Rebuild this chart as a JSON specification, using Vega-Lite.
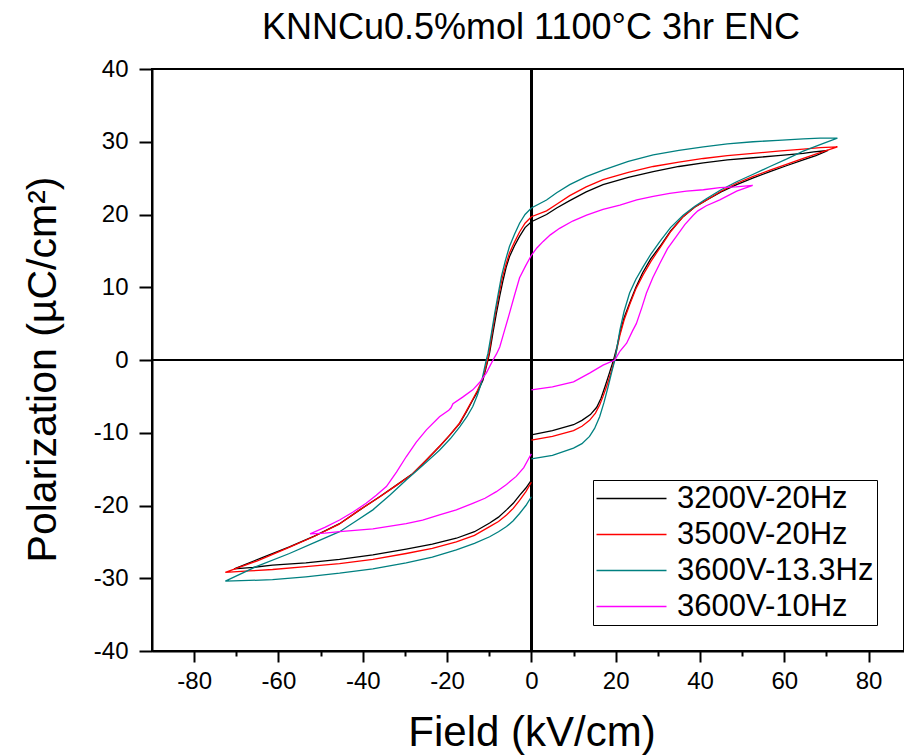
{
"$schema":"https://vega.github.io/schema/vega-lite/v6.json",
"width":752,"height":582,"autosize":"none",
"padding":{"left":152,"top":69,"right":0,"bottom":105},
"background":"white",
"title":{"text":"KNNCu0.5%mol 1100°C 3hr ENC","font":"Liberation Sans","fontSize":36,"fontWeight":"normal","color":"black","anchor":"middle","frame":"group","offset":10,"dx":3},
"config":{"font":"Liberation Sans","view":{"stroke":"black","strokeWidth":2},
"axis":{"grid":false,"domainColor":"black","domainWidth":2,"tickColor":"black","tickWidth":2,"labelFont":"Liberation Sans","labelFontSize":24,"labelColor":"black","titleFont":"Liberation Sans","titleFontWeight":"normal","titleColor":"black","labelOverlap":false,"labelFlush":false}},
"data":{"values":[
{"s":"3200V-20Hz","i":0,"E":0,"P":-10.3},{"s":"3200V-20Hz","i":1,"E":5,"P":-9.7},{"s":"3200V-20Hz","i":2,"E":10,"P":-8.9},{"s":"3200V-20Hz","i":3,"E":12,"P":-8.3},{"s":"3200V-20Hz","i":4,"E":14,"P":-7.5},{"s":"3200V-20Hz","i":5,"E":15.5,"P":-6.5},{"s":"3200V-20Hz","i":6,"E":16.5,"P":-5.3},{"s":"3200V-20Hz","i":7,"E":17.5,"P":-3.6},{"s":"3200V-20Hz","i":8,"E":18.5,"P":-1.8},{"s":"3200V-20Hz","i":9,"E":19.5,"P":0},
{"s":"3200V-20Hz","i":10,"E":20.3,"P":1.8},{"s":"3200V-20Hz","i":11,"E":21,"P":3.7},{"s":"3200V-20Hz","i":12,"E":22,"P":5.8},{"s":"3200V-20Hz","i":13,"E":23.3,"P":7.8},{"s":"3200V-20Hz","i":14,"E":24.8,"P":10},{"s":"3200V-20Hz","i":15,"E":26.4,"P":12},{"s":"3200V-20Hz","i":16,"E":28.3,"P":13.9},{"s":"3200V-20Hz","i":17,"E":30.5,"P":15.6},{"s":"3200V-20Hz","i":18,"E":33,"P":17.7},{"s":"3200V-20Hz","i":19,"E":36,"P":19.7},
{"s":"3200V-20Hz","i":20,"E":38.7,"P":21},{"s":"3200V-20Hz","i":21,"E":41.6,"P":22},{"s":"3200V-20Hz","i":22,"E":45,"P":23.1},{"s":"3200V-20Hz","i":23,"E":48.7,"P":24.1},{"s":"3200V-20Hz","i":24,"E":52.5,"P":25},{"s":"3200V-20Hz","i":25,"E":56.6,"P":25.9},{"s":"3200V-20Hz","i":26,"E":60.5,"P":26.7},{"s":"3200V-20Hz","i":27,"E":64.5,"P":27.5},{"s":"3200V-20Hz","i":28,"E":67.5,"P":28.1},{"s":"3200V-20Hz","i":29,"E":70.4,"P":28.8},
{"s":"3200V-20Hz","i":30,"E":67,"P":28.6},{"s":"3200V-20Hz","i":31,"E":64.5,"P":28.4},{"s":"3200V-20Hz","i":32,"E":58.5,"P":28.1},{"s":"3200V-20Hz","i":33,"E":52.6,"P":27.8},{"s":"3200V-20Hz","i":34,"E":46.5,"P":27.5},{"s":"3200V-20Hz","i":35,"E":40.8,"P":27.1},{"s":"3200V-20Hz","i":36,"E":35,"P":26.6},{"s":"3200V-20Hz","i":37,"E":28.9,"P":25.9},{"s":"3200V-20Hz","i":38,"E":23,"P":25.1},{"s":"3200V-20Hz","i":39,"E":17,"P":24.1},
{"s":"3200V-20Hz","i":40,"E":13,"P":23.1},{"s":"3200V-20Hz","i":41,"E":9.1,"P":21.9},{"s":"3200V-20Hz","i":42,"E":6,"P":20.9},{"s":"3200V-20Hz","i":43,"E":3.6,"P":20},{"s":"3200V-20Hz","i":44,"E":0,"P":19},{"s":"3200V-20Hz","i":45,"E":-1.5,"P":18.2},{"s":"3200V-20Hz","i":46,"E":-2.8,"P":17},{"s":"3200V-20Hz","i":47,"E":-4,"P":15.7},{"s":"3200V-20Hz","i":48,"E":-5.2,"P":14.2},{"s":"3200V-20Hz","i":49,"E":-6,"P":12.7},
{"s":"3200V-20Hz","i":50,"E":-6.7,"P":11},{"s":"3200V-20Hz","i":51,"E":-7.5,"P":8.8},{"s":"3200V-20Hz","i":52,"E":-8.3,"P":6.4},{"s":"3200V-20Hz","i":53,"E":-9.1,"P":3.8},{"s":"3200V-20Hz","i":54,"E":-9.9,"P":1},{"s":"3200V-20Hz","i":55,"E":-10.3,"P":0},{"s":"3200V-20Hz","i":56,"E":-10.9,"P":-1.4},{"s":"3200V-20Hz","i":57,"E":-11.5,"P":-2.8},{"s":"3200V-20Hz","i":58,"E":-12.6,"P":-4.2},{"s":"3200V-20Hz","i":59,"E":-13.9,"P":-5.5},
{"s":"3200V-20Hz","i":60,"E":-15.4,"P":-7.1},{"s":"3200V-20Hz","i":61,"E":-17,"P":-8.7},{"s":"3200V-20Hz","i":62,"E":-19.3,"P":-10.3},{"s":"3200V-20Hz","i":63,"E":-21.8,"P":-11.9},{"s":"3200V-20Hz","i":64,"E":-25,"P":-13.8},{"s":"3200V-20Hz","i":65,"E":-28.1,"P":-15.6},{"s":"3200V-20Hz","i":66,"E":-32,"P":-17.2},{"s":"3200V-20Hz","i":67,"E":-36,"P":-18.8},{"s":"3200V-20Hz","i":68,"E":-40.7,"P":-20.6},{"s":"3200V-20Hz","i":69,"E":-45.5,"P":-22.5},
{"s":"3200V-20Hz","i":70,"E":-51.5,"P":-24.2},{"s":"3200V-20Hz","i":71,"E":-57.4,"P":-25.7},{"s":"3200V-20Hz","i":72,"E":-64,"P":-27.2},{"s":"3200V-20Hz","i":73,"E":-70.5,"P":-28.7},{"s":"3200V-20Hz","i":74,"E":-66,"P":-28.5},{"s":"3200V-20Hz","i":75,"E":-61.4,"P":-28.2},{"s":"3200V-20Hz","i":76,"E":-53.5,"P":-27.9},{"s":"3200V-20Hz","i":77,"E":-45.5,"P":-27.4},{"s":"3200V-20Hz","i":78,"E":-37.6,"P":-26.8},{"s":"3200V-20Hz","i":79,"E":-29.7,"P":-26},
{"s":"3200V-20Hz","i":80,"E":-23.5,"P":-25.3},{"s":"3200V-20Hz","i":81,"E":-17.8,"P":-24.5},{"s":"3200V-20Hz","i":82,"E":-13.5,"P":-23.6},{"s":"3200V-20Hz","i":83,"E":-9.9,"P":-22.4},{"s":"3200V-20Hz","i":84,"E":-7.8,"P":-21.6},{"s":"3200V-20Hz","i":85,"E":-5.9,"P":-20.6},{"s":"3200V-20Hz","i":86,"E":-4.3,"P":-19.7},{"s":"3200V-20Hz","i":87,"E":-2.8,"P":-18.6},{"s":"3200V-20Hz","i":88,"E":-1.3,"P":-17.6},{"s":"3200V-20Hz","i":89,"E":0,"P":-16.5},

{"s":"3500V-20Hz","i":0,"E":0,"P":-11},{"s":"3500V-20Hz","i":1,"E":5,"P":-10.5},{"s":"3500V-20Hz","i":2,"E":10,"P":-9.7},{"s":"3500V-20Hz","i":3,"E":12,"P":-9.1},{"s":"3500V-20Hz","i":4,"E":13.8,"P":-8.3},{"s":"3500V-20Hz","i":5,"E":15.2,"P":-7.3},{"s":"3500V-20Hz","i":6,"E":16.2,"P":-6.2},{"s":"3500V-20Hz","i":7,"E":17,"P":-5},{"s":"3500V-20Hz","i":8,"E":17.8,"P":-3.7},{"s":"3500V-20Hz","i":9,"E":18.8,"P":-1.9},
{"s":"3500V-20Hz","i":10,"E":19.7,"P":0},{"s":"3500V-20Hz","i":11,"E":20.4,"P":1.8},{"s":"3500V-20Hz","i":12,"E":21,"P":3.4},{"s":"3500V-20Hz","i":13,"E":22,"P":5.5},{"s":"3500V-20Hz","i":14,"E":23.3,"P":7.6},{"s":"3500V-20Hz","i":15,"E":24.8,"P":9.8},{"s":"3500V-20Hz","i":16,"E":26.5,"P":11.7},{"s":"3500V-20Hz","i":17,"E":28.4,"P":13.6},{"s":"3500V-20Hz","i":18,"E":30.5,"P":15.4},{"s":"3500V-20Hz","i":19,"E":33,"P":17.6},
{"s":"3500V-20Hz","i":20,"E":36,"P":19.7},{"s":"3500V-20Hz","i":21,"E":38.7,"P":21},{"s":"3500V-20Hz","i":22,"E":41.6,"P":22},{"s":"3500V-20Hz","i":23,"E":45,"P":23.2},{"s":"3500V-20Hz","i":24,"E":48.7,"P":24.3},{"s":"3500V-20Hz","i":25,"E":52.5,"P":25.2},{"s":"3500V-20Hz","i":26,"E":56.6,"P":26.1},{"s":"3500V-20Hz","i":27,"E":60.5,"P":26.9},{"s":"3500V-20Hz","i":28,"E":64.5,"P":27.7},{"s":"3500V-20Hz","i":29,"E":68.5,"P":28.5},
{"s":"3500V-20Hz","i":30,"E":72.6,"P":29.3},{"s":"3500V-20Hz","i":31,"E":68.5,"P":29.2},{"s":"3500V-20Hz","i":32,"E":64.5,"P":29},{"s":"3500V-20Hz","i":33,"E":58.5,"P":28.7},{"s":"3500V-20Hz","i":34,"E":52.6,"P":28.4},{"s":"3500V-20Hz","i":35,"E":46.5,"P":28.1},{"s":"3500V-20Hz","i":36,"E":40.8,"P":27.7},{"s":"3500V-20Hz","i":37,"E":35,"P":27.2},{"s":"3500V-20Hz","i":38,"E":28.9,"P":26.6},{"s":"3500V-20Hz","i":39,"E":23,"P":25.8},
{"s":"3500V-20Hz","i":40,"E":17,"P":24.8},{"s":"3500V-20Hz","i":41,"E":13,"P":23.8},{"s":"3500V-20Hz","i":42,"E":9.1,"P":22.6},{"s":"3500V-20Hz","i":43,"E":6,"P":21.4},{"s":"3500V-20Hz","i":44,"E":3.6,"P":20.5},{"s":"3500V-20Hz","i":45,"E":0,"P":19.7},{"s":"3500V-20Hz","i":46,"E":-1.5,"P":18.8},{"s":"3500V-20Hz","i":47,"E":-2.8,"P":17.6},{"s":"3500V-20Hz","i":48,"E":-4,"P":16.2},{"s":"3500V-20Hz","i":49,"E":-5.2,"P":14.7},
{"s":"3500V-20Hz","i":50,"E":-6,"P":13.2},{"s":"3500V-20Hz","i":51,"E":-6.9,"P":11.3},{"s":"3500V-20Hz","i":52,"E":-7.7,"P":9},{"s":"3500V-20Hz","i":53,"E":-8.5,"P":6.5},{"s":"3500V-20Hz","i":54,"E":-9.3,"P":3.8},{"s":"3500V-20Hz","i":55,"E":-10,"P":1.1},{"s":"3500V-20Hz","i":56,"E":-10.4,"P":0},{"s":"3500V-20Hz","i":57,"E":-11,"P":-1.4},{"s":"3500V-20Hz","i":58,"E":-11.7,"P":-2.8},{"s":"3500V-20Hz","i":59,"E":-12.8,"P":-4.2},
{"s":"3500V-20Hz","i":60,"E":-14.1,"P":-5.6},{"s":"3500V-20Hz","i":61,"E":-15.6,"P":-7.2},{"s":"3500V-20Hz","i":62,"E":-17.2,"P":-8.8},{"s":"3500V-20Hz","i":63,"E":-19.5,"P":-10.4},{"s":"3500V-20Hz","i":64,"E":-22,"P":-12},{"s":"3500V-20Hz","i":65,"E":-25.2,"P":-13.9},{"s":"3500V-20Hz","i":66,"E":-28.3,"P":-15.7},{"s":"3500V-20Hz","i":67,"E":-32.2,"P":-17.3},{"s":"3500V-20Hz","i":68,"E":-36.2,"P":-18.9},{"s":"3500V-20Hz","i":69,"E":-41,"P":-20.7},
{"s":"3500V-20Hz","i":70,"E":-45.7,"P":-22.6},{"s":"3500V-20Hz","i":71,"E":-51.7,"P":-24.3},{"s":"3500V-20Hz","i":72,"E":-57.6,"P":-25.8},{"s":"3500V-20Hz","i":73,"E":-65,"P":-27.6},{"s":"3500V-20Hz","i":74,"E":-72.6,"P":-29.2},{"s":"3500V-20Hz","i":75,"E":-67,"P":-29},{"s":"3500V-20Hz","i":76,"E":-61.4,"P":-28.8},{"s":"3500V-20Hz","i":77,"E":-53.5,"P":-28.4},{"s":"3500V-20Hz","i":78,"E":-45.5,"P":-28},{"s":"3500V-20Hz","i":79,"E":-37.6,"P":-27.4},
{"s":"3500V-20Hz","i":80,"E":-29.7,"P":-26.6},{"s":"3500V-20Hz","i":81,"E":-23.5,"P":-25.9},{"s":"3500V-20Hz","i":82,"E":-17.8,"P":-25},{"s":"3500V-20Hz","i":83,"E":-13.5,"P":-24.1},{"s":"3500V-20Hz","i":84,"E":-9.9,"P":-22.9},{"s":"3500V-20Hz","i":85,"E":-7.8,"P":-22.2},{"s":"3500V-20Hz","i":86,"E":-5.9,"P":-21.3},{"s":"3500V-20Hz","i":87,"E":-4.3,"P":-20.4},{"s":"3500V-20Hz","i":88,"E":-2.8,"P":-19.3},{"s":"3500V-20Hz","i":89,"E":-1.3,"P":-18.1},{"s":"3500V-20Hz","i":90,"E":0,"P":-16.8},

{"s":"3600V-13.3Hz","i":0,"E":0,"P":-13.6},{"s":"3600V-13.3Hz","i":1,"E":5,"P":-13.1},{"s":"3600V-13.3Hz","i":2,"E":10,"P":-12.1},{"s":"3600V-13.3Hz","i":3,"E":12,"P":-11.5},{"s":"3600V-13.3Hz","i":4,"E":13.8,"P":-10.5},{"s":"3600V-13.3Hz","i":5,"E":15,"P":-9.4},{"s":"3600V-13.3Hz","i":6,"E":16.2,"P":-7.8},{"s":"3600V-13.3Hz","i":7,"E":17.2,"P":-5.9},{"s":"3600V-13.3Hz","i":8,"E":18.2,"P":-3.7},{"s":"3600V-13.3Hz","i":9,"E":19,"P":-1.8},
{"s":"3600V-13.3Hz","i":10,"E":19.8,"P":0},{"s":"3600V-13.3Hz","i":11,"E":20.4,"P":2},{"s":"3600V-13.3Hz","i":12,"E":21,"P":4.1},{"s":"3600V-13.3Hz","i":13,"E":22,"P":6.7},{"s":"3600V-13.3Hz","i":14,"E":23.3,"P":9.2},{"s":"3600V-13.3Hz","i":15,"E":24.8,"P":11.1},{"s":"3600V-13.3Hz","i":16,"E":26.5,"P":12.8},{"s":"3600V-13.3Hz","i":17,"E":28.4,"P":14.6},{"s":"3600V-13.3Hz","i":18,"E":30.5,"P":16.3},{"s":"3600V-13.3Hz","i":19,"E":33,"P":18.2},
{"s":"3600V-13.3Hz","i":20,"E":36,"P":19.9},{"s":"3600V-13.3Hz","i":21,"E":38.7,"P":21.1},{"s":"3600V-13.3Hz","i":22,"E":41.6,"P":22.2},{"s":"3600V-13.3Hz","i":23,"E":45,"P":23.4},{"s":"3600V-13.3Hz","i":24,"E":48.7,"P":24.5},{"s":"3600V-13.3Hz","i":25,"E":52.5,"P":25.5},{"s":"3600V-13.3Hz","i":26,"E":56.6,"P":26.6},{"s":"3600V-13.3Hz","i":27,"E":60.5,"P":27.6},{"s":"3600V-13.3Hz","i":28,"E":64.5,"P":28.7},{"s":"3600V-13.3Hz","i":29,"E":68.5,"P":29.6},
{"s":"3600V-13.3Hz","i":30,"E":72.6,"P":30.5},{"s":"3600V-13.3Hz","i":31,"E":68.5,"P":30.5},{"s":"3600V-13.3Hz","i":32,"E":64.5,"P":30.4},{"s":"3600V-13.3Hz","i":33,"E":58.5,"P":30.2},{"s":"3600V-13.3Hz","i":34,"E":52.6,"P":30},{"s":"3600V-13.3Hz","i":35,"E":46.5,"P":29.7},{"s":"3600V-13.3Hz","i":36,"E":40.8,"P":29.3},{"s":"3600V-13.3Hz","i":37,"E":35,"P":28.8},{"s":"3600V-13.3Hz","i":38,"E":28.9,"P":28.2},{"s":"3600V-13.3Hz","i":39,"E":23,"P":27.3},
{"s":"3600V-13.3Hz","i":40,"E":17,"P":26.1},{"s":"3600V-13.3Hz","i":41,"E":13,"P":25.2},{"s":"3600V-13.3Hz","i":42,"E":9.1,"P":24.1},{"s":"3600V-13.3Hz","i":43,"E":6,"P":23},{"s":"3600V-13.3Hz","i":44,"E":3.6,"P":22},{"s":"3600V-13.3Hz","i":45,"E":0,"P":20.9},{"s":"3600V-13.3Hz","i":46,"E":-1.5,"P":20},{"s":"3600V-13.3Hz","i":47,"E":-2.8,"P":18.8},{"s":"3600V-13.3Hz","i":48,"E":-4,"P":17.3},{"s":"3600V-13.3Hz","i":49,"E":-5.2,"P":15.6},
{"s":"3600V-13.3Hz","i":50,"E":-6.2,"P":13.6},{"s":"3600V-13.3Hz","i":51,"E":-7.1,"P":11.5},{"s":"3600V-13.3Hz","i":52,"E":-7.9,"P":9},{"s":"3600V-13.3Hz","i":53,"E":-8.7,"P":6.4},{"s":"3600V-13.3Hz","i":54,"E":-9.5,"P":3.6},{"s":"3600V-13.3Hz","i":55,"E":-10.3,"P":0.9},{"s":"3600V-13.3Hz","i":56,"E":-10.7,"P":0},{"s":"3600V-13.3Hz","i":57,"E":-11.3,"P":-1.6},{"s":"3600V-13.3Hz","i":58,"E":-11.9,"P":-3.2},{"s":"3600V-13.3Hz","i":59,"E":-12.8,"P":-4.8},
{"s":"3600V-13.3Hz","i":60,"E":-13.9,"P":-6.4},{"s":"3600V-13.3Hz","i":61,"E":-15.3,"P":-7.8},{"s":"3600V-13.3Hz","i":62,"E":-17,"P":-9.2},{"s":"3600V-13.3Hz","i":63,"E":-19.2,"P":-10.8},{"s":"3600V-13.3Hz","i":64,"E":-21.8,"P":-12.4},{"s":"3600V-13.3Hz","i":65,"E":-25.6,"P":-14.4},{"s":"3600V-13.3Hz","i":66,"E":-29.7,"P":-16.5},{"s":"3600V-13.3Hz","i":67,"E":-33.6,"P":-18.6},{"s":"3600V-13.3Hz","i":68,"E":-37.6,"P":-20.6},{"s":"3600V-13.3Hz","i":69,"E":-41.5,"P":-22.1},
{"s":"3600V-13.3Hz","i":70,"E":-45.5,"P":-23.6},{"s":"3600V-13.3Hz","i":71,"E":-51.5,"P":-25.1},{"s":"3600V-13.3Hz","i":72,"E":-57.4,"P":-26.6},{"s":"3600V-13.3Hz","i":73,"E":-65.3,"P":-28.4},{"s":"3600V-13.3Hz","i":74,"E":-72.6,"P":-30.4},{"s":"3600V-13.3Hz","i":75,"E":-67,"P":-30.3},{"s":"3600V-13.3Hz","i":76,"E":-61.4,"P":-30.2},{"s":"3600V-13.3Hz","i":77,"E":-53.5,"P":-29.8},{"s":"3600V-13.3Hz","i":78,"E":-45.5,"P":-29.3},{"s":"3600V-13.3Hz","i":79,"E":-37.6,"P":-28.7},
{"s":"3600V-13.3Hz","i":80,"E":-29.7,"P":-27.9},{"s":"3600V-13.3Hz","i":81,"E":-23.5,"P":-27.1},{"s":"3600V-13.3Hz","i":82,"E":-17.8,"P":-26.1},{"s":"3600V-13.3Hz","i":83,"E":-13.5,"P":-25.2},{"s":"3600V-13.3Hz","i":84,"E":-9.9,"P":-24.3},{"s":"3600V-13.3Hz","i":85,"E":-7.8,"P":-23.6},{"s":"3600V-13.3Hz","i":86,"E":-5.9,"P":-22.9},{"s":"3600V-13.3Hz","i":87,"E":-4.3,"P":-22.1},{"s":"3600V-13.3Hz","i":88,"E":-2.8,"P":-21.1},{"s":"3600V-13.3Hz","i":89,"E":-1.3,"P":-20},{"s":"3600V-13.3Hz","i":90,"E":0,"P":-18.8},

{"s":"3600V-10Hz","i":0,"E":0,"P":-4.1},{"s":"3600V-10Hz","i":1,"E":5,"P":-3.7},{"s":"3600V-10Hz","i":2,"E":10,"P":-3},{"s":"3600V-10Hz","i":3,"E":13.8,"P":-1.8},{"s":"3600V-10Hz","i":4,"E":17,"P":-0.7},{"s":"3600V-10Hz","i":5,"E":19.8,"P":0},{"s":"3600V-10Hz","i":6,"E":21,"P":1.2},{"s":"3600V-10Hz","i":7,"E":22.6,"P":2.3},{"s":"3600V-10Hz","i":8,"E":24,"P":4},{"s":"3600V-10Hz","i":9,"E":24.9,"P":5},
{"s":"3600V-10Hz","i":10,"E":26.2,"P":7.2},{"s":"3600V-10Hz","i":11,"E":27.3,"P":9.2},{"s":"3600V-10Hz","i":12,"E":28.8,"P":11.3},{"s":"3600V-10Hz","i":13,"E":30.5,"P":13.3},{"s":"3600V-10Hz","i":14,"E":32.3,"P":15.3},{"s":"3600V-10Hz","i":15,"E":34.4,"P":17},{"s":"3600V-10Hz","i":16,"E":36.4,"P":18.6},{"s":"3600V-10Hz","i":17,"E":38.4,"P":19.9},{"s":"3600V-10Hz","i":18,"E":39.5,"P":20.5},{"s":"3600V-10Hz","i":19,"E":41.5,"P":21.2},
{"s":"3600V-10Hz","i":20,"E":44.7,"P":22},{"s":"3600V-10Hz","i":21,"E":48.7,"P":23.2},{"s":"3600V-10Hz","i":22,"E":52.5,"P":24},{"s":"3600V-10Hz","i":23,"E":48.5,"P":23.8},{"s":"3600V-10Hz","i":24,"E":44.7,"P":23.7},{"s":"3600V-10Hz","i":25,"E":40.8,"P":23.4},{"s":"3600V-10Hz","i":26,"E":36.8,"P":23.2},{"s":"3600V-10Hz","i":27,"E":32.8,"P":22.9},{"s":"3600V-10Hz","i":28,"E":28.9,"P":22.5},{"s":"3600V-10Hz","i":29,"E":25,"P":22},
{"s":"3600V-10Hz","i":30,"E":21,"P":21.3},{"s":"3600V-10Hz","i":31,"E":17,"P":20.7},{"s":"3600V-10Hz","i":32,"E":13.1,"P":19.9},{"s":"3600V-10Hz","i":33,"E":9.8,"P":19.1},{"s":"3600V-10Hz","i":34,"E":6.7,"P":18.1},{"s":"3600V-10Hz","i":35,"E":4.5,"P":17.2},{"s":"3600V-10Hz","i":36,"E":2.8,"P":16.3},{"s":"3600V-10Hz","i":37,"E":1.3,"P":15.4},{"s":"3600V-10Hz","i":38,"E":0,"P":14.4},{"s":"3600V-10Hz","i":39,"E":-1.4,"P":12.9},
{"s":"3600V-10Hz","i":40,"E":-2.8,"P":11.3},{"s":"3600V-10Hz","i":41,"E":-4,"P":8.9},{"s":"3600V-10Hz","i":42,"E":-5.2,"P":6.4},{"s":"3600V-10Hz","i":43,"E":-6.4,"P":4},{"s":"3600V-10Hz","i":44,"E":-7.5,"P":1.8},{"s":"3600V-10Hz","i":45,"E":-8.3,"P":0.8},{"s":"3600V-10Hz","i":46,"E":-9.1,"P":0},{"s":"3600V-10Hz","i":47,"E":-10.7,"P":-1.8},{"s":"3600V-10Hz","i":48,"E":-12.3,"P":-3.1},{"s":"3600V-10Hz","i":49,"E":-13.9,"P":-4.1},
{"s":"3600V-10Hz","i":50,"E":-16.3,"P":-5.1},{"s":"3600V-10Hz","i":51,"E":-18.6,"P":-6},{"s":"3600V-10Hz","i":52,"E":-19.1,"P":-6.6},{"s":"3600V-10Hz","i":53,"E":-19.6,"P":-6.9},{"s":"3600V-10Hz","i":54,"E":-21.8,"P":-7.8},{"s":"3600V-10Hz","i":55,"E":-24.9,"P":-9.6},{"s":"3600V-10Hz","i":56,"E":-27.3,"P":-11.3},{"s":"3600V-10Hz","i":57,"E":-29.7,"P":-13.3},{"s":"3600V-10Hz","i":58,"E":-32,"P":-15.4},{"s":"3600V-10Hz","i":59,"E":-34.4,"P":-17.4},
{"s":"3600V-10Hz","i":60,"E":-36.8,"P":-18.6},{"s":"3600V-10Hz","i":61,"E":-39.2,"P":-19.7},{"s":"3600V-10Hz","i":62,"E":-42.3,"P":-20.9},{"s":"3600V-10Hz","i":63,"E":-45.5,"P":-22},{"s":"3600V-10Hz","i":64,"E":-49,"P":-23},{"s":"3600V-10Hz","i":65,"E":-52.5,"P":-23.9},{"s":"3600V-10Hz","i":66,"E":-49,"P":-23.8},{"s":"3600V-10Hz","i":67,"E":-45.5,"P":-23.6},{"s":"3600V-10Hz","i":68,"E":-37.6,"P":-23.2},{"s":"3600V-10Hz","i":69,"E":-29.7,"P":-22.5},
{"s":"3600V-10Hz","i":70,"E":-25.8,"P":-22},{"s":"3600V-10Hz","i":71,"E":-21.8,"P":-21.3},{"s":"3600V-10Hz","i":72,"E":-17.8,"P":-20.6},{"s":"3600V-10Hz","i":73,"E":-13.9,"P":-19.7},{"s":"3600V-10Hz","i":74,"E":-11,"P":-19},{"s":"3600V-10Hz","i":75,"E":-8.3,"P":-18.1},{"s":"3600V-10Hz","i":76,"E":-5.9,"P":-17.1},{"s":"3600V-10Hz","i":77,"E":-3.6,"P":-16},{"s":"3600V-10Hz","i":78,"E":-1.8,"P":-14.8},{"s":"3600V-10Hz","i":79,"E":-0.4,"P":-13.3},{"s":"3600V-10Hz","i":80,"E":0,"P":-12.9}
]},
"layer":[
{"mark":{"type":"rule","color":"black","strokeWidth":2},"encoding":{"x":{"datum":0,"type":"quantitative","title":"Field (kV/cm)"}}},
{"mark":{"type":"rule","color":"black","strokeWidth":2},"encoding":{"y":{"datum":0,"type":"quantitative","title":"Polarization (µC/cm²)"}}},
{"mark":{"type":"line","strokeWidth":1.3},
"encoding":{
"x":{"field":"E","type":"quantitative","title":"Field (kV/cm)","scale":{"domain":[-90,88.4],"nice":false,"zero":false},
"axis":{"values":[-80,-70,-60,-50,-40,-30,-20,-10,0,10,20,30,40,50,60,70,80],"labelExpr":"datum.value % 20 === 0 ? toString(datum.value) : ''","tickSize":{"condition":{"test":"datum.value % 20 === 0","value":11},"value":5},"labelPadding":7,"titleFontSize":42,"titleX":379.5,"titleY":94,"titleBaseline":"alphabetic","titleAlign":"center","titleAnchor":"start"}},
"y":{"field":"P","type":"quantitative","title":"Polarization (µC/cm²)","scale":{"domain":[-40,40],"nice":false,"zero":false},
"axis":{"values":[-40,-35,-30,-25,-20,-15,-10,-5,0,5,10,15,20,25,30,35,40],"labelExpr":"datum.value % 10 === 0 ? toString(datum.value) : ''","tickSize":{"condition":{"test":"datum.value % 10 === 0","value":13},"value":7},"labelPadding":11,"titleFontSize":41,"titleAngle":270,"titleX":-97,"titleY":300,"titleBaseline":"alphabetic","titleAlign":"center","titleAnchor":"start"}},
"color":{"field":"s","type":"nominal","scale":{"domain":["3200V-20Hz","3500V-20Hz","3600V-13.3Hz","3600V-10Hz"],"range":["#000000","#ff0000","#008080","#ff00ff"]},
"legend":{"title":null,"orient":"none","legendX":441,"legendY":411,"symbolType":"M-7,0H7","symbolSize":100,"symbolStrokeWidth":1.5,"symbolOffset":20,"labelFont":"Liberation Sans","labelFontSize":31,"labelColor":"black","labelLimit":400,"labelOffset":30,"strokeColor":"black","fillColor":"white","padding":3,"rowPadding":4}},
"order":{"field":"i","type":"quantitative"}}}
]
}
